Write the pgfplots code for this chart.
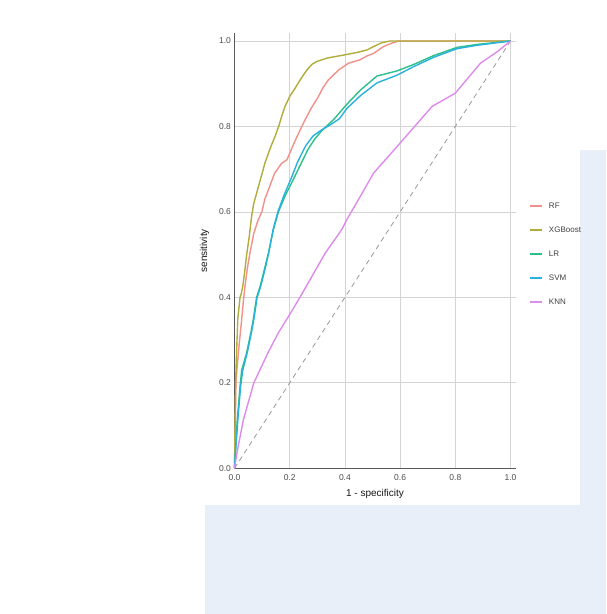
\documentclass[border=0pt]{standalone}
\usepackage{pgfplots}
\pgfplotsset{compat=1.18}
\usepackage{fontspec}
\setmainfont{Liberation Sans}
\definecolor{cRF}{HTML}{F2918A}
\definecolor{cXGB}{HTML}{B0AD3A}
\definecolor{cLR}{HTML}{2DBF8A}
\definecolor{cSVM}{HTML}{28B2DC}
\definecolor{cKNN}{HTML}{DE8CEC}
\definecolor{wm}{HTML}{E8EFF8}
\begin{document}
\begin{tikzpicture}
\path[fill=white] (0pt,0pt) rectangle (606pt,614pt);
\fill[wm] (205pt,0pt) rectangle (606pt,109pt);
\fill[wm] (580pt,109pt) rectangle (606pt,464pt);
\begin{axis}[
  at={(234.5pt,145.7pt)}, anchor=south west,
  scale only axis, width=281pt, height=435pt,
  xmin=0, xmax=1.018, ymin=0, ymax=1.018,
  axis lines=left,
  axis line style={-, draw=black!65, line width=1.2pt},
  xtick={0,0.2,...,1.0}, ytick={0,0.2,...,1.0},
  ticklabel style={font=\fontsize{8.5}{9}\selectfont, text=black!70},
  xticklabel style={yshift=-3pt, /pgf/number format/.cd,fixed,fixed zerofill,precision=1},
  yticklabel style={/pgf/number format/.cd,fixed,fixed zerofill,precision=1},
  /pgf/number format/assume math mode=true,
  major tick length=0pt,
  grid=major,
  major grid style={draw=black!17, line width=0.8pt},
  xlabel={1 - specificity}, ylabel={sensitivity},
  label style={font=\fontsize{10}{11}\selectfont, text=black!90},
  xlabel style={yshift=-2pt},
  ylabel style={yshift=3pt},
  legend style={at={(1.048,0.492)}, anchor=west, draw=none, fill=none,
    font=\fontsize{8}{8}\selectfont, text=black!75, row sep=13pt,
    inner sep=0pt, /tikz/every odd column/.append style={column sep=4pt}},
  legend cell align=left,
  legend image code/.code={\draw[#1, line width=1.8pt] (0pt,0pt) -- (12pt,0pt);},
  every axis plot/.append style={line width=1.4pt},
  clip=false,
]
\addplot[draw=black!40, dash pattern=on 5pt off 4pt, line width=0.8pt, forget plot] coordinates {(0,0) (1,1)};
\addplot[cRF] coordinates {(0,0)(0.003,0.113)(0.005,0.2)(0.01,0.24)(0.014,0.27)(0.02,0.31)(0.026,0.348)(0.032,0.39)(0.038,0.426)(0.047,0.47)(0.056,0.504)(0.07,0.55)(0.085,0.58)(0.099,0.6)(0.11,0.63)(0.123,0.652)(0.145,0.69)(0.171,0.714)(0.19,0.722)(0.215,0.76)(0.238,0.792)(0.256,0.816)(0.28,0.845)(0.304,0.87)(0.32,0.89)(0.34,0.909)(0.377,0.932)(0.413,0.948)(0.455,0.956)(0.48,0.965)(0.504,0.971)(0.54,0.987)(0.57,0.995)(0.595,1)(1,1)};
\addlegendentry{RF}
\addplot[cXGB] coordinates {(0,0)(0.002,0.1)(0.004,0.2)(0.008,0.28)(0.012,0.35)(0.02,0.4)(0.025,0.41)(0.03,0.426)(0.037,0.46)(0.044,0.5)(0.053,0.54)(0.062,0.59)(0.07,0.62)(0.087,0.66)(0.1,0.69)(0.11,0.714)(0.13,0.75)(0.147,0.777)(0.16,0.8)(0.172,0.826)(0.183,0.847)(0.2,0.87)(0.22,0.89)(0.238,0.909)(0.262,0.932)(0.28,0.945)(0.298,0.952)(0.335,0.96)(0.36,0.963)(0.395,0.967)(0.443,0.973)(0.48,0.979)(0.504,0.987)(0.534,0.996)(0.564,1)(1,1)};
\addlegendentry{XGBoost}
\addplot[cLR] coordinates {(0,0)(0.003,0.035)(0.01,0.113)(0.02,0.191)(0.026,0.23)(0.044,0.27)(0.06,0.32)(0.068,0.348)(0.08,0.4)(0.093,0.426)(0.11,0.47)(0.123,0.504)(0.141,0.559)(0.159,0.6)(0.183,0.637)(0.21,0.672)(0.235,0.705)(0.265,0.745)(0.29,0.77)(0.316,0.79)(0.359,0.816)(0.407,0.852)(0.456,0.885)(0.516,0.918)(0.589,0.93)(0.649,0.945)(0.722,0.966)(0.806,0.985)(0.879,0.992)(1,1)};
\addlegendentry{LR}
\addplot[cSVM] coordinates {(0,0)(0.004,0.04)(0.012,0.113)(0.022,0.191)(0.03,0.23)(0.046,0.27)(0.062,0.32)(0.07,0.348)(0.082,0.4)(0.095,0.426)(0.112,0.47)(0.124,0.504)(0.14,0.559)(0.157,0.6)(0.18,0.64)(0.205,0.678)(0.228,0.716)(0.258,0.755)(0.285,0.778)(0.316,0.792)(0.35,0.805)(0.38,0.818)(0.407,0.842)(0.456,0.872)(0.516,0.902)(0.589,0.92)(0.649,0.94)(0.722,0.962)(0.806,0.982)(0.879,0.99)(1,1)};
\addlegendentry{SVM}
\addplot[cKNN] coordinates {(0,0)(0.01,0.04)(0.032,0.113)(0.07,0.2)(0.121,0.27)(0.158,0.316)(0.2,0.36)(0.237,0.4)(0.329,0.504)(0.389,0.559)(0.407,0.582)(0.45,0.63)(0.504,0.691)(0.589,0.753)(0.716,0.847)(0.8,0.878)(0.891,0.948)(0.952,0.975)(1,1)};
\addlegendentry{KNN}
\end{axis}
\end{tikzpicture}
\end{document}
